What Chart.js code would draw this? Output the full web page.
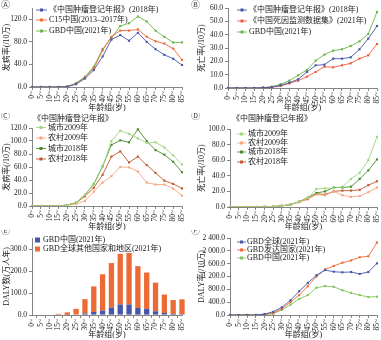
<!DOCTYPE html>
<html>
<head>
<meta charset="utf-8">
<script src="https://cdn.jsdelivr.net/npm/chart.js@4.4.0/dist/chart.umd.min.js"></script>
<style>
body { margin: 0; background: #fff; width: 381px; height: 340px; position: relative; overflow: hidden; }
.panel { position: absolute; }
</style>
</head>
<body>
<div class="panel" style="left:0;top:0;width:190px;height:113px"><canvas id="cA"></canvas></div>
<div class="panel" style="left:190px;top:0;width:191px;height:113px"><canvas id="cB"></canvas></div>
<div class="panel" style="left:0;top:113px;width:190px;height:117px"><canvas id="cC"></canvas></div>
<div class="panel" style="left:190px;top:113px;width:191px;height:117px"><canvas id="cD"></canvas></div>
<div class="panel" style="left:0;top:230px;width:190px;height:110px"><canvas id="cE"></canvas></div>
<div class="panel" style="left:190px;top:230px;width:191px;height:110px"><canvas id="cF"></canvas></div>
<script>
// age groups (x axis of every panel)
const ageGroups = ['0~','5~','10~','15~','20~','25~','30~','35~','40~','45~','50~','55~','60~','65~','70~','75~','80~','85~'];

// A: incidence (/10万)
const aRegistry2018 = [0,0,0,0,0.5,5,15,30,54,84,92,82,96,80,67,57,50,39];
const aC15 = [0,0,0,0,0.6,6,17,33,65,89,100,100,102,89,81,77,68,48];
const aGBD = [0,0,0,0,0.8,7,18,36,67,87,108,113,125,116,100,89,79,79];

// B: mortality (/10万)
const bRegistry2018 = [0,0,0,0,0.2,0.6,2,4,6.5,12,17,17.5,22,22,23,29,37,46.5];
const bDeathSurv = [0,0,0,0,0.2,0.5,1.5,3.5,5.5,8.5,12,16,15.5,17,18.5,22,24.5,33];
const bGBD = [0,0,0,0,0.3,1,2.8,5.5,9.5,13.5,20.5,25,28,29,31.5,35,40.5,57];

// C: incidence urban / rural
const cUrban2009 = [0,0,0,0,1.5,5,17,33,60,100,116,111,104,97,98,90,78,64];
const cRural2009 = [0,0,0,0,1,3,8,22,36,46,60,59.5,53,36,33,33,27,16];
const cUrban2018 = [0,0,0,0,1.5,5,17,34,61,94,101,98,118,100,86,79,68,52];
const cRural2018 = [0,0,0,0,1.5,5,15,28,48,76,84,67,76,63,51,39,34,27];

// D: mortality urban / rural
const dUrban2009 = [0,0,0,0,0.2,0.5,1.5,3,7,12,23,24,24,26,36,44,60,90];
const dRural2009 = [0,0,0,0,0.2,0.5,1.5,3,6,11,16,15,20,15,13,14,19,25];
const dUrban2018 = [0,0,0,0,0.2,0.5,1.5,3,7,12,18,20,25,25,26,36,47,61];
const dRural2018 = [0,0,0,0,0.2,0.5,1.5,3,6.5,10,17,16,20,21,21,22,28,33];

// E: DALY counts (万人年), stacked
const eChina = [0,0,0,0,1,2,7,14,20,33,48,48,32,28,17,9,5,4];
const eOthers = [0,0,0,5,11,26,65,116,165,203,230,234,190,165,130,84,63,67];

// F: DALY rate (/10万)
const fGlobal = [0,0,0,0,30,100,240,460,740,1000,1240,1400,1350,1330,1340,1280,1340,1610];
const fDeveloped = [0,0,0,0,20,60,190,400,620,900,1200,1420,1530,1630,1700,1800,1830,2260];
const fChina = [0,0,0,0,10,40,160,320,500,620,850,900,880,770,690,620,560,570];

const FONT_FAMILY = '"Liberation Serif", "Noto Sans CJK SC", serif';
const TEXT_COLOR = '#222';
const AXIS_COLOR = '#666';

const BLUE = '#4656a8';
const ORANGE = '#ec6a35';
const GREEN = '#6cb447';
const LIGHT_GREEN = '#9ed67c';
const LIGHT_ORANGE = '#f6a57c';
const DARK_GREEN = '#4a8a2c';
const DARK_ORANGE = '#c2582a';

function fmtTick(v) {
    const s = v.toFixed(1);
    const parts = s.split('.');
    const intPart = parts[0].replace(/\B(?=(\d{3})+(?!\d))/g, ' ');
    return intPart + '.' + parts[1];
}

// draws rotated x labels, axis titles, panel letter, subtitle and legend
const panelDecor = {
    id: 'panelDecor',
    afterDraw(chart, args, opts) {
        const ctx = chart.ctx;
        const xs = chart.scales.x;
        const area = chart.chartArea;
        ctx.save();
        ctx.fillStyle = TEXT_COLOR;

        // x tick labels, rotated, ending just under the axis
        ctx.font = '7.5px ' + FONT_FAMILY;
        ctx.textAlign = 'right';
        ctx.textBaseline = 'middle';
        ageGroups.forEach((lab, i) => {
            const px = xs.getPixelForTick(i);
            ctx.save();
            ctx.translate(px, xs.top + 4);
            ctx.rotate(-Math.PI / 2);
            ctx.fillText(lab, 0, 0);
            ctx.restore();
        });

        // x title
        ctx.font = '8px ' + FONT_FAMILY;
        ctx.textAlign = 'center';
        ctx.fillText('年龄组(岁)', (area.left + area.right) / 2, opts.xTitleY);

        // y title
        ctx.save();
        ctx.translate(opts.yTitleX, (area.top + area.bottom) / 2);
        ctx.rotate(-Math.PI / 2);
        ctx.fillText(opts.yTitle, 0, 0);
        ctx.restore();

        // panel letter
        ctx.font = '9px "Noto Sans CJK SC", "DejaVu Sans", sans-serif';
        ctx.textAlign = 'left';
        ctx.fillStyle = '#444';
        ctx.fillText(opts.letter, 1, opts.letterY);

        // subtitle
        ctx.fillStyle = TEXT_COLOR;
        ctx.font = '8px ' + FONT_FAMILY;
        if (opts.subtitle) {
            ctx.fillText(opts.subtitle, opts.subtitleX, opts.subtitleY);
        }

        // legend
        const lg = opts.legend;
        chart.data.datasets.forEach((ds, i) => {
            const y = lg.rows[i];
            const col = ds.borderColor;
            if (lg.type === 'box') {
                ctx.fillStyle = ds.backgroundColor;
                ctx.fillRect(lg.x0, y - 2.5, 5, 5);
            } else {
                ctx.strokeStyle = col;
                ctx.lineWidth = 0.9;
                ctx.beginPath();
                ctx.moveTo(lg.x0, y);
                ctx.lineTo(lg.x1, y);
                ctx.stroke();
                ctx.fillStyle = col;
                ctx.fillRect((lg.x0 + lg.x1) / 2 - 1.5, y - 1.5, 3, 3);
            }
            ctx.fillStyle = TEXT_COLOR;
            ctx.fillText(ds.label, lg.tx, y);
        });
        ctx.restore();
    }
};

function lineSet(label, data, color) {
    return {
        label: label,
        data: data,
        borderColor: color,
        backgroundColor: color,
        borderWidth: 0.9,
        pointStyle: 'rect',
        pointRadius: 1.5,
        pointBorderWidth: 0,
        tension: 0
    };
}

function makeChart(id, type, datasets, yMax, yStep, box, deco) {
    const canvas = document.getElementById(id);
    return new Chart(canvas.getContext('2d'), {
        type: type,
        data: { labels: ageGroups, datasets: datasets },
        options: {
            responsive: true,
            maintainAspectRatio: false,
            animation: false,
            devicePixelRatio: 1,
            layout: { padding: { top: box.t, right: box.w - box.r, left: 0, bottom: 0 } },
            plugins: {
                legend: { display: false },
                tooltip: { enabled: false },
                panelDecor: deco
            },
            scales: {
                x: {
                    stacked: type === 'bar',
                    offset: false,
                    grid: { display: true, drawOnChartArea: false, drawTicks: true, tickLength: 3, color: AXIS_COLOR, lineWidth: 0.8 },
                    border: { display: true, color: AXIS_COLOR, width: 0.8 },
                    ticks: { display: false },
                    afterFit(scale) { scale.height = box.h - box.b; }
                },
                y: {
                    stacked: type === 'bar',
                    min: 0,
                    max: yMax,
                    grid: { display: true, drawOnChartArea: false, drawTicks: true, tickLength: 3, color: AXIS_COLOR, lineWidth: 0.8 },
                    border: { display: true, color: AXIS_COLOR, width: 0.8 },
                    ticks: {
                        stepSize: yStep,
                        padding: 2,
                        color: TEXT_COLOR,
                        font: { family: FONT_FAMILY, size: 7.5 },
                        callback: v => fmtTick(v)
                    },
                    afterFit(scale) { scale.width = box.l; }
                }
            }
        },
        plugins: [panelDecor]
    });
}

// Panel A
makeChart('cA', 'line', [
    lineSet('《中国肿瘤登记年报》(2018年)', aRegistry2018, BLUE),
    lineSet('C15中国(2013–2017年)', aC15, ORANGE),
    lineSet('GBD中国(2021年)', aGBD, GREEN)
], 140, 20, { w: 190, h: 113, l: 32, t: 8, r: 182, b: 87 }, {
    letter: 'Ⓐ', letterY: 5, xTitleY: 108, yTitleX: 7, yTitle: '发病率(/10万)',
    legend: { rows: [10, 20, 31], x0: 36, x1: 47, tx: 49 }
});

// Panel B
makeChart('cB', 'line', [
    lineSet('《中国肿瘤登记年报》(2018年)', bRegistry2018, BLUE),
    lineSet('《中国死因监测数据集》(2021年)', bDeathSurv, '#ee5a3c'),
    lineSet('GBD中国(2021年)', bGBD, GREEN)
], 60, 10, { w: 191, h: 113, l: 38, t: 8, r: 188, b: 88 }, {
    letter: 'Ⓑ', letterY: 5, xTitleY: 108, yTitleX: 12, yTitle: '死亡率(/10万)',
    legend: { rows: [10, 21, 32], x0: 47, x1: 57, tx: 59 }
});

// Panel C
makeChart('cC', 'line', [
    lineSet('城市2009年', cUrban2009, LIGHT_GREEN),
    lineSet('农村2009年', cRural2009, LIGHT_ORANGE),
    lineSet('城市2018年', cUrban2018, DARK_GREEN),
    lineSet('农村2018年', cRural2018, DARK_ORANGE)
], 120, 20, { w: 190, h: 117, l: 32, t: 15, r: 182, b: 93 }, {
    letter: 'Ⓒ', letterY: 3, xTitleY: 114, yTitleX: 7, yTitle: '发病率(/10万)',
    subtitle: '《中国肿瘤登记年报》', subtitleX: 33, subtitleY: 5.5,
    legend: { rows: [14.5, 25, 35.5, 46], x0: 36, x1: 46, tx: 48 }
});

// Panel D
makeChart('cD', 'line', [
    lineSet('城市2009年', dUrban2009, LIGHT_GREEN),
    lineSet('农村2009年', dRural2009, LIGHT_ORANGE),
    lineSet('城市2018年', dUrban2018, DARK_GREEN),
    lineSet('农村2018年', dRural2018, DARK_ORANGE)
], 100, 10, { w: 191, h: 117, l: 40, t: 16, r: 188, b: 94 }, {
    letter: 'Ⓓ', letterY: 3, xTitleY: 114, yTitleX: 12, yTitle: '死亡率(/10万)',
    subtitle: '《中国肿瘤登记年报》', subtitleX: 42, subtitleY: 6,
    legend: { rows: [21, 30, 39, 49], x0: 47, x1: 56, tx: 58 }
});

// Panel E
makeChart('cE', 'bar', [
    { label: 'GBD中国(2021年)', data: eChina, backgroundColor: BLUE, borderColor: BLUE, borderWidth: 0, barPercentage: 0.6, categoryPercentage: 1, clip: false },
    { label: 'GBD全球其他国家和地区(2021年)', data: eOthers, backgroundColor: ORANGE, borderColor: ORANGE, borderWidth: 0, barPercentage: 0.6, categoryPercentage: 1, clip: false }
], 350, 50, { w: 190, h: 110, l: 32, t: 8, r: 182, b: 85 }, {
    letter: 'Ⓔ', letterY: 1, xTitleY: 105, yTitleX: 7, yTitle: 'DALY数(万人年)',
    legend: { type: 'box', rows: [10, 19], x0: 35, tx: 43 }
});

// Panel F
makeChart('cF', 'line', [
    lineSet('GBD全球(2021年)', fGlobal, BLUE),
    lineSet('GBD发达国家(2021年)', fDeveloped, ORANGE),
    lineSet('GBD中国(2021年)', fChina, '#82c45a')
], 2400, 400, { w: 191, h: 110, l: 40, t: 8, r: 188, b: 85 }, {
    letter: 'Ⓕ', letterY: 1, xTitleY: 105, yTitleX: 12, yTitle: 'DALY率(/10万)',
    legend: { rows: [12, 20, 28], x0: 47, x1: 56, tx: 57 }
});
</script>
</body>
</html>
